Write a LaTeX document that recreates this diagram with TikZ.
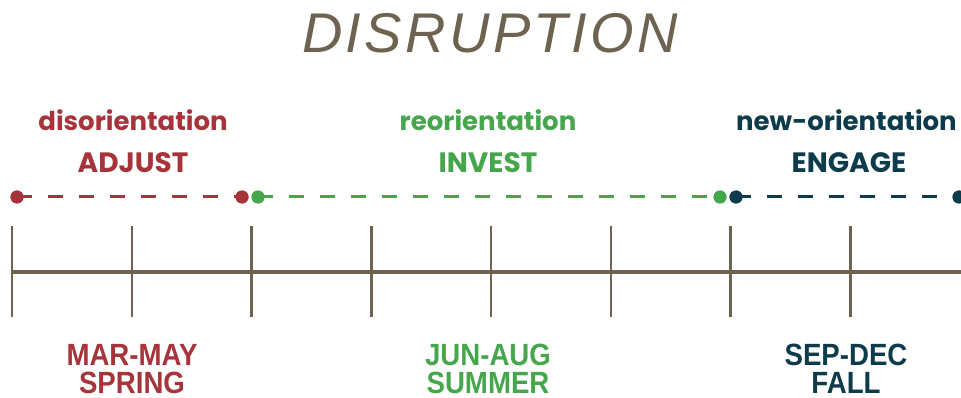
\documentclass[tikz,border=0pt]{standalone}
\usepackage{fontspec}
\setmainfont{Poppins}
\newfontfamily\condfont{Liberation Sans}[FakeStretch=0.9]
\newfontfamily\handfont{Liberation Sans}[LetterSpace=6]
\definecolor{cred}{HTML}{A7343B}
\definecolor{cgreen}{HTML}{46A64B}
\definecolor{cnavy}{HTML}{0E3B4B}
\definecolor{cbrown}{HTML}{6E6350}
\tikzset{
  dot/.style={circle,fill=#1,inner sep=0pt,minimum size=13pt},
  seg/.style={draw=#1,line width=3pt,dash pattern=on 15pt off 16pt},
  tick/.style={draw=cbrown,line width=2.5pt},
  axis/.style={draw=cbrown,line width=4pt},
  phase/.style={text=#1,font=\fontsize{26}{28}\selectfont\bfseries,inner sep=0pt},
  verb/.style={text=#1,font=\fontsize{28}{30}\selectfont\bfseries,inner sep=0pt},
  season/.style={text=#1,font=\condfont\fontsize{30.7}{30}\selectfont\bfseries,align=center,inner sep=0pt},
}
\begin{document}
\begin{tikzpicture}[x=1pt,y=-1pt]
\useasboundingbox (0,0) rectangle (961,398);
% title
\node[text=cbrown,font=\handfont\itshape\fontsize{56}{60}\selectfont,inner sep=0pt] (title) at (490,33) {DISRUPTION};
% phase labels
\node[phase=cred] (p1) at (133,120) {disorientation};
\node[phase=cgreen] (p2) at (488,120) {reorientation};
\node[phase=cnavy,anchor=west] (p3) at (736,120) {new-orientation};
\node[verb=cred] (v1) at (133,163) {ADJUST};
\node[verb=cgreen] (v2) at (488,163) {INVEST};
\node[verb=cnavy] (v3) at (849,163) {ENGAGE};
% dotted segments
\node[dot=cred] (r1) at (17,197) {};
\node[dot=cred] (r2) at (242,197) {};
\node[dot=cgreen] (g1) at (258,197) {};
\node[dot=cgreen] (g2) at (720,197) {};
\node[dot=cnavy] (n1) at (736,197) {};
\node[dot=cnavy] (n2) at (959,197) {};
\draw[seg=cred] (r1.center) -- (r2.center);
\draw[seg=cgreen] (g1.center) -- (g2.center);
\draw[seg=cnavy] (n1.center) -- (n2.center);
\node[dot=cred] at (r1) {};
\node[dot=cred] at (r2) {};
\node[dot=cgreen] at (g1) {};
\node[dot=cgreen] at (g2) {};
\node[dot=cnavy] at (n1) {};
\node[dot=cnavy] at (n2) {};
% axis
\coordinate (a0) at (12,272);
\coordinate (a1) at (961,272);
\draw[axis] (a0) -- (a1);
\foreach \i in {0,...,7} {
  \coordinate (t\i a) at ({12+119.75*\i},226);
  \coordinate (t\i b) at ({12+119.75*\i},317);
  \draw[tick] (t\i a) -- (t\i b);
}
% seasons
\node[season=cred] (s1) at (132,369) {MAR-MAY\\[-2pt]SPRING};
\node[season=cgreen] (s2) at (488,369) {JUN-AUG\\[-2pt]SUMMER};
\node[season=cnavy] (s3) at (846,369) {SEP-DEC\\[-2pt]FALL};
\end{tikzpicture}
\end{document}
